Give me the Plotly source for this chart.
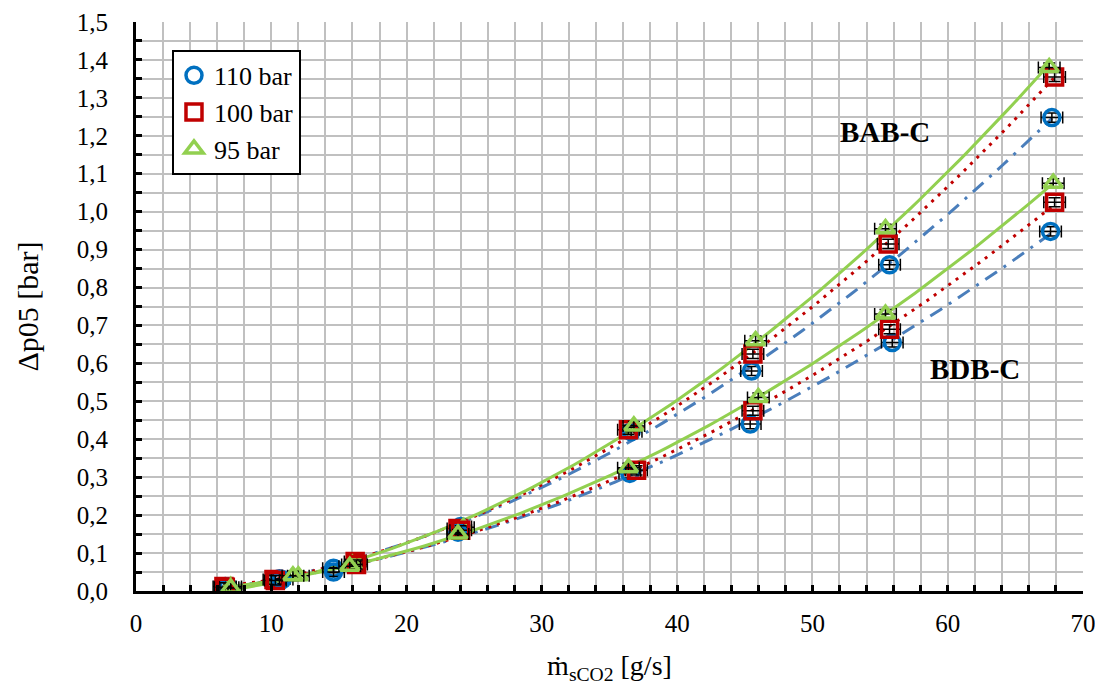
import numpy as np
import plotly.graph_objects as go

# ---- data ----
# BAB-C (upper group)
bab_110_x = [6.6, 10.6, 14.6, 24.0, 36.6, 45.5, 55.7, 67.7]
bab_110_y = [0.012, 0.032, 0.060, 0.170, 0.420, 0.580, 0.860, 1.248]
bab_100_x = [6.5, 10.2, 16.2, 23.8, 36.4, 45.6, 55.6, 67.9]
bab_100_y = [0.012, 0.030, 0.078, 0.165, 0.425, 0.625, 0.915, 1.355]
bab_95_x = [7.0, 12.0, 16.0, 24.2, 36.8, 45.8, 55.4, 67.5]
bab_95_y = [0.012, 0.040, 0.070, 0.168, 0.435, 0.660, 0.955, 1.380]
# BDB-C (lower group)
bdb_110_x = [6.8, 10.8, 14.6, 23.8, 36.5, 45.4, 55.9, 67.6]
bdb_110_y = [0.010, 0.030, 0.050, 0.155, 0.310, 0.440, 0.655, 0.948]
bdb_100_x = [6.6, 10.3, 16.3, 24.0, 37.0, 45.6, 55.7, 67.9]
bdb_100_y = [0.010, 0.028, 0.070, 0.160, 0.318, 0.475, 0.690, 1.025]
bdb_95_x = [7.0, 11.6, 15.8, 23.8, 36.4, 46.0, 55.4, 67.8]
bdb_95_y = [0.008, 0.040, 0.065, 0.150, 0.325, 0.510, 0.730, 1.075]

x_err = 0.8
y_err = 0.012

series_names = ["110 bar", "100 bar", "95 bar"]
marker_symbols = ["circle-open", "square-open", "triangle-up-open"]
marker_colors = ["#0070C0", "#C00000", "#92D050"]
line_colors = ["#4A7EBB", "#C00000", "#92D050"]
line_dashes = ["14px,8px,3px,8px", "3px,6px", "solid"]

groups = [
    [(bab_110_x, bab_110_y), (bab_100_x, bab_100_y), (bab_95_x, bab_95_y)],
    [(bdb_110_x, bdb_110_y), (bdb_100_x, bdb_100_y), (bdb_95_x, bdb_95_y)],
]

FONT = "Times New Roman, Liberation Serif, serif"
fig = go.Figure()

# trendlines (2nd-order polynomial fits, like Excel trendlines)
for g in groups:
    for i, (xs, ys) in enumerate(g):
        c = np.polyfit(xs, ys, 2)
        xf = np.linspace(min(xs), max(xs), 120)
        fig.add_trace(go.Scatter(
            x=xf, y=np.polyval(c, xf), mode="lines", showlegend=False, hoverinfo="skip",
            line=dict(color=line_colors[i], width=3, dash=line_dashes[i])))

# markers with error bars
for gi, g in enumerate(groups):
    for i, (xs, ys) in enumerate(g):
        fig.add_trace(go.Scatter(
            x=xs, y=ys, mode="markers", name=series_names[i],
            legendgroup=series_names[i], showlegend=(gi == 0),
            marker=dict(symbol=marker_symbols[i], size=16, color=marker_colors[i],
                        line=dict(width=3.5, color=marker_colors[i])),
            error_x=dict(type="constant", value=x_err, color="black", thickness=1.5, width=6),
            error_y=dict(type="constant", value=y_err, color="black", thickness=1.5, width=6),
        ))

fig.add_annotation(x=55.4, y=1.21, text="<b>BAB-C</b>", showarrow=False,
                   font=dict(family=FONT, size=29, color="black"))
fig.add_annotation(x=62.0, y=0.585, text="<b>BDB-C</b>", showarrow=False,
                   font=dict(family=FONT, size=29, color="black"))

# page body has an 8px default margin: figure is sized/offset to compensate
grid_col = "#C0C0C0"
fig.update_layout(
    width=1087, height=677,
    margin=dict(l=128, r=12, t=14, b=94),
    paper_bgcolor="white", plot_bgcolor="white",
    separators=", ",
    font=dict(family=FONT, size=25, color="black"),
    legend=dict(x=0.038, y=0.951, xanchor="left", yanchor="top",
                bgcolor="white", bordercolor="black", borderwidth=2,
                font=dict(family=FONT, size=26), itemwidth=30,
                tracegroupgap=0),
    xaxis=dict(range=[0, 70], dtick=10, tick0=0, showgrid=True, gridcolor=grid_col, gridwidth=2,
               minor=dict(dtick=2, showgrid=True, gridcolor=grid_col, gridwidth=2,
                          ticks="inside", ticklen=6, tickwidth=3, tickcolor="black"),
               ticks="inside", ticklen=6, tickwidth=3, tickcolor="black",
               showline=True, linecolor="black", linewidth=3, zeroline=False,
               automargin=False, ticklabelstandoff=8, ticklabeloverflow="allow",
               title=dict(text="ṁ<sub>sCO2</sub> [g/s]", font=dict(family=FONT, size=28), standoff=26),
               tickfont=dict(family=FONT, size=25)),
    yaxis=dict(range=[0, 1.5], dtick=0.1, tick0=0, tickformat=".1f",
               showgrid=True, gridcolor=grid_col, gridwidth=2,
               minor=dict(dtick=0.05, showgrid=True, gridcolor=grid_col, gridwidth=2,
                          ticks="inside", ticklen=6, tickwidth=3, tickcolor="black"),
               ticks="inside", ticklen=6, tickwidth=3, tickcolor="black",
               showline=True, linecolor="black", linewidth=3, zeroline=False,
               automargin=False, ticklabelstandoff=20, ticklabeloverflow="allow",
               title=dict(text="Δp05 [bar]", font=dict(family=FONT, size=30), standoff=30),
               tickfont=dict(family=FONT, size=25)),
)

fig.write_html("out.html")
